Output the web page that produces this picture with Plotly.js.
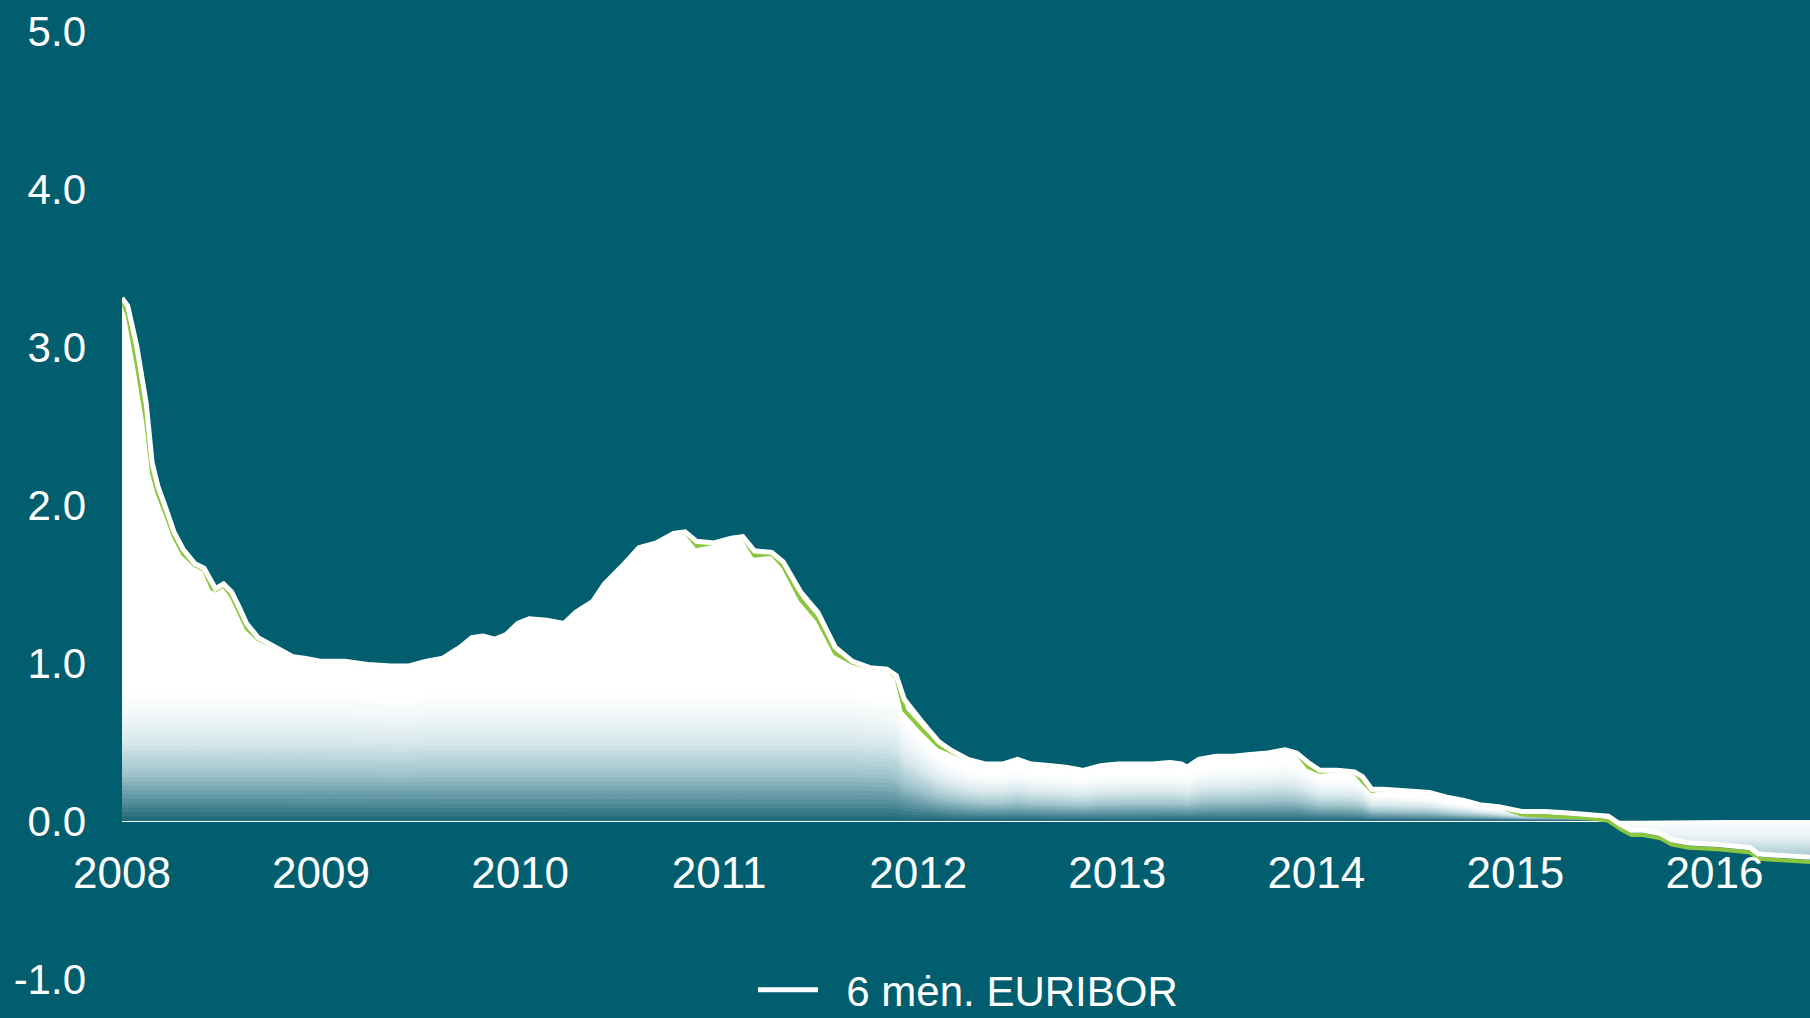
<!DOCTYPE html>
<html>
<head>
<meta charset="utf-8">
<script src="https://cdn.plot.ly/plotly-3.0.1.min.js"></script>
<style>
  html, body { margin: 0; padding: 0; background: #005e6e; }
  #chart { width: 1810px; height: 1018px; }
</style>
</head>
<body>
<div id="chart"></div>
<script>
// Decimal years (x positions)
const years = [
  2008.000, 2008.029, 2008.075, 2008.122, 2008.151, 2008.180, 2008.220, 2008.261, 2008.307, 2008.365,
  2008.412, 2008.452, 2008.470, 2008.510, 2008.551, 2008.586, 2008.626, 2008.684, 2008.771, 2008.858,
  2008.916, 2009.003, 2009.119, 2009.235, 2009.351, 2009.438, 2009.525, 2009.612, 2009.699, 2009.757,
  2009.814, 2009.872, 2009.930, 2009.988, 2010.046, 2010.133, 2010.220, 2010.278, 2010.365, 2010.423,
  2010.510, 2010.597, 2010.684, 2010.771, 2010.829, 2010.887, 2010.974, 2011.061, 2011.119, 2011.177,
  2011.264, 2011.322, 2011.409, 2011.496, 2011.583, 2011.670, 2011.757, 2011.843, 2011.890, 2011.930,
  2012.017, 2012.104, 2012.162, 2012.249, 2012.336, 2012.423, 2012.499, 2012.568, 2012.655, 2012.742,
  2012.829, 2012.916, 2013.003, 2013.090, 2013.177, 2013.264, 2013.322, 2013.351, 2013.409, 2013.496,
  2013.583, 2013.670, 2013.757, 2013.843, 2013.901, 2013.959, 2014.017, 2014.104, 2014.191, 2014.232,
  2014.278, 2014.336, 2014.452, 2014.568, 2014.655, 2014.742, 2014.829, 2014.916, 2015.032, 2015.148,
  2015.267, 2015.383, 2015.467, 2015.525, 2015.583, 2015.641, 2015.728, 2015.786, 2015.872, 2016.017,
  2016.104, 2016.180, 2016.220, 2016.336, 2016.480
];

// 6 mėn. EURIBOR (white line), %
const euribor6m = [
  3.31, 3.26, 3.00, 2.64, 2.27, 2.12, 1.98, 1.83, 1.72, 1.63,
  1.60, 1.50, 1.47, 1.50, 1.45, 1.36, 1.25, 1.16, 1.10, 1.04,
  1.03, 1.01, 1.01, 0.99, 0.98, 0.98, 1.01, 1.03, 1.10, 1.16,
  1.17, 1.15, 1.18, 1.25, 1.28, 1.27, 1.25, 1.32, 1.39, 1.50,
  1.61, 1.73, 1.76, 1.82, 1.83, 1.77, 1.76, 1.79, 1.80, 1.71,
  1.70, 1.64, 1.45, 1.32, 1.10, 1.01, 0.97, 0.96, 0.92, 0.77,
  0.63, 0.50, 0.45, 0.39, 0.36, 0.36, 0.39, 0.36, 0.35, 0.34,
  0.32, 0.35, 0.36, 0.36, 0.36, 0.37, 0.36, 0.34, 0.39, 0.41,
  0.41, 0.42, 0.43, 0.45, 0.43, 0.37, 0.32, 0.32, 0.31, 0.28,
  0.20, 0.20, 0.19, 0.18, 0.15, 0.13, 0.10, 0.09, 0.06, 0.06,
  0.05, 0.04, 0.03, -0.02, -0.06, -0.06, -0.08, -0.12, -0.14, -0.15,
  -0.16, -0.17, -0.21, -0.22, -0.23
];

// Second (green) series, %
const greenSeries = [
  3.30, 3.20, 2.88, 2.52, 2.20, 2.07, 1.94, 1.80, 1.69, 1.62,
  1.59, 1.47, 1.46, 1.49, 1.42, 1.32, 1.22, 1.15, 1.10, 1.04,
  1.03, 1.01, 1.01, 0.99, 0.98, 0.98, 1.01, 1.03, 1.10, 1.16,
  1.17, 1.15, 1.18, 1.25, 1.28, 1.27, 1.25, 1.32, 1.39, 1.50,
  1.61, 1.73, 1.76, 1.82, 1.83, 1.74, 1.76, 1.79, 1.80, 1.68,
  1.69, 1.61, 1.40, 1.27, 1.06, 1.00, 0.97, 0.96, 0.91, 0.70,
  0.58, 0.47, 0.44, 0.39, 0.36, 0.36, 0.39, 0.36, 0.35, 0.34,
  0.32, 0.35, 0.36, 0.36, 0.36, 0.37, 0.36, 0.34, 0.39, 0.41,
  0.41, 0.42, 0.43, 0.45, 0.43, 0.34, 0.31, 0.32, 0.31, 0.25,
  0.19, 0.20, 0.19, 0.18, 0.15, 0.13, 0.10, 0.09, 0.04, 0.035,
  0.025, 0.015, 0.00, -0.05, -0.09, -0.09, -0.11, -0.15, -0.17, -0.18,
  -0.19, -0.20, -0.24, -0.25, -0.26
];

const xTickVals = [2008, 2009, 2010, 2011, 2012, 2013, 2014, 2015, 2016];
const xTickText = ['2008', '2009', '2010', '2011', '2012', '2013', '2014', '2015', '2016'];
const yTickVals = [-1, 0, 1, 2, 3, 4, 5];
const yTickText = ['-1.0', '0.0', '1.0', '2.0', '3.0', '4.0', '5.0'];
const seriesName = '6 mėn. EURIBOR';

const BG = '#005e6e';
const FONT = 'Liberation Sans, Arial, sans-serif';

// ---- styling helpers (no data) ----
const gradStops = [
  [0.00, [28, 104, 119]],
  [0.12, [85, 142, 156]],
  [0.30, [160, 196, 204]],
  [0.50, [215, 232, 236]],
  [0.68, [243, 248, 249]],
  [0.82, [255, 255, 255]],
  [1.00, [255, 255, 255]]
];
function colorAt(t) {
  for (let i = 1; i < gradStops.length; i++) {
    if (t <= gradStops[i][0]) {
      const [t0, c0] = gradStops[i - 1], [t1, c1] = gradStops[i];
      const f = (t - t0) / (t1 - t0);
      const c = c0.map((v, j) => Math.round(v + (c1[j] - v) * f));
      return 'rgb(' + c.join(',') + ')';
    }
  }
  return 'rgb(255,255,255)';
}
const BANDS = 36;
const GRAD_CAP = 1.0; // gradient height cap (style)

const positivePart = euribor6m.map(v => Math.max(v, 0));
const negativePart = euribor6m.map(v => Math.min(v, 0));
const gradHeight = positivePart.map(v => Math.min(v, GRAD_CAP));

const traces = [];
// white area under the curve
traces.push({
  x: years, y: positivePart, type: 'scatter', mode: 'lines',
  fill: 'tozeroy', fillcolor: '#ffffff', line: { width: 0, color: 'rgba(0,0,0,0)' },
  showlegend: false, hoverinfo: 'skip'
});
// fading bands near the zero line (gradient relative to the curve height)
for (let k = BANDS - 1; k >= 1; k--) {
  const f = k / BANDS;
  traces.push({
    x: years, y: gradHeight.map(g => g * f), type: 'scatter', mode: 'lines',
    fill: 'tozeroy', fillcolor: colorAt((k - 0.5) / BANDS),
    line: { width: 0, color: 'rgba(0,0,0,0)' },
    showlegend: false, hoverinfo: 'skip'
  });
}
// negative area
traces.push({
  x: years, y: negativePart, type: 'scatter', mode: 'lines',
  fill: 'tozeroy', line: { width: 0, color: 'rgba(0,0,0,0)' },
  fillgradient: {
    type: 'vertical', start: -0.22, stop: 0,
    colorscale: [
      [0, 'rgb(170,202,210)'],
      [0.5, 'rgb(228,239,242)'],
      [1, 'rgb(255,255,255)']
    ]
  },
  showlegend: false, hoverinfo: 'skip'
});
// green series
traces.push({
  x: years, y: greenSeries, type: 'scatter', mode: 'lines',
  line: { color: '#8cc63f', width: 4 },
  showlegend: false
});
// white 6M EURIBOR line
traces.push({
  x: years, y: euribor6m, type: 'scatter', mode: 'lines',
  name: '\u00a0\u00a0' + seriesName,
  line: { color: '#ffffff', width: 5 }
});

const layout = {
  width: 1810, height: 1018,
  paper_bgcolor: BG, plot_bgcolor: BG,
  margin: { l: 122, r: 0, t: 31, b: 39, pad: 0, autoexpand: false },
  font: { family: FONT, color: '#ffffff' },
  showlegend: true,
  legend: {
    orientation: 'h', x: 0.3738, xanchor: 'left', y: -0.0116, yanchor: 'middle',
    itemwidth: 60,
    font: { family: FONT, size: 42, color: '#ffffff' },
    bgcolor: 'rgba(0,0,0,0)'
  },
  xaxis: {
    range: [2008, 2016.48],
    tickvals: xTickVals, ticktext: xTickText,
    showgrid: false, zeroline: false, showline: false, ticks: '',
    anchor: 'free', position: 0.1669,
    ticklabelstandoff: 22,
    tickfont: { family: FONT, size: 44, color: '#ffffff' }
  },
  yaxis: {
    range: [-1.001, 5.001],
    tickvals: yTickVals, ticktext: yTickText,
    showgrid: false, showline: false, ticks: '',
    zeroline: true, zerolinecolor: '#ffffff', zerolinewidth: 2,
    layer: 'above traces',
    ticklabelstandoff: 35,
    tickfont: { family: FONT, size: 42, color: '#ffffff' }
  }
};

Plotly.newPlot('chart', traces, layout, { staticPlot: true, displayModeBar: false });
</script>
</body>
</html>
